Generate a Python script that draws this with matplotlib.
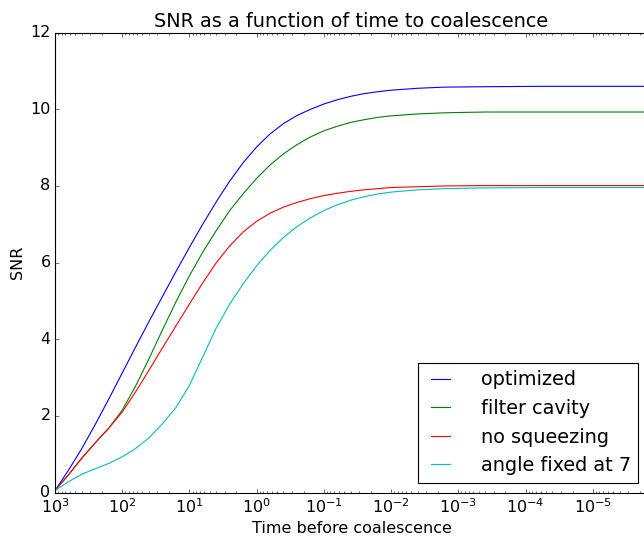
import matplotlib
matplotlib.use('Agg')
import matplotlib.pyplot as plt
import numpy as np

plt.style.use('classic')

# log10 of the time before coalescence
log_t = [3.0, 2.8, 2.6, 2.4, 2.2, 2.0, 1.8, 1.6, 1.4, 1.2, 1.0, 0.8, 0.6, 0.4, 0.2, 0.0,
         -0.2, -0.4, -0.6, -0.8, -1.0, -1.2, -1.4, -1.6, -1.8, -2.0, -2.4, -2.8,
         -3.4, -4.2, -5.0, -5.82]

snr_optimized = [0.05, 0.58, 1.15, 1.78, 2.44, 3.12, 3.8, 4.47, 5.12, 5.77, 6.4, 7.01,
                 7.59, 8.13, 8.61, 9.02, 9.36, 9.63, 9.84, 10.0, 10.14, 10.25, 10.34,
                 10.41, 10.46, 10.5, 10.55, 10.58, 10.59, 10.6, 10.6, 10.6]
snr_filter = [0.05, 0.46, 0.9, 1.3, 1.68, 2.15, 2.78, 3.5, 4.25, 4.98, 5.66, 6.28, 6.84,
              7.36, 7.8, 8.2, 8.55, 8.84, 9.08, 9.28, 9.44, 9.56, 9.66, 9.73, 9.79,
              9.83, 9.88, 9.91, 9.93, 9.93, 9.93, 9.93]
snr_nosqz = [0.05, 0.46, 0.9, 1.3, 1.68, 2.1, 2.63, 3.2, 3.78, 4.35, 4.92, 5.48, 6.0,
             6.44, 6.8, 7.08, 7.29, 7.45, 7.57, 7.67, 7.75, 7.81, 7.86, 7.9, 7.93,
             7.96, 7.98, 8.0, 8.01, 8.01, 8.01, 8.01]
snr_fixed = [0.05, 0.28, 0.48, 0.62, 0.76, 0.93, 1.15, 1.43, 1.8, 2.22, 2.8, 3.55, 4.3,
             4.92, 5.45, 5.92, 6.32, 6.66, 6.94, 7.17, 7.36, 7.51, 7.63, 7.72, 7.79,
             7.84, 7.9, 7.93, 7.95, 7.96, 7.96, 7.96]

labels = ['optimized', 'filter cavity', 'no squeezing', 'angle fixed at 7']
colors = ['b', 'g', 'r', 'c']

t = 10.0 ** np.array(log_t)

fig = plt.figure(figsize=(644 / 80, 539 / 80), dpi=80, facecolor='white')
ax = fig.add_axes([55 / 644, 46.5 / 539, 593 / 644, 459.8 / 539])

for y, lbl, c in zip([snr_optimized, snr_filter, snr_nosqz, snr_fixed], labels, colors):
    ax.plot(t, y, color=c, lw=1.0, label=lbl)

ax.set_xscale('log')
ax.set_xlim(1e3, 10 ** -5.82)
ax.set_ylim(0, 12)
ax.tick_params(labelsize=14.4)
ax.set_title('SNR as a function of time to coalescence', fontsize=17.3)
ax.set_xlabel('Time before coalescence', fontsize=14.4)
ax.set_ylabel('SNR', fontsize=14.4)
ax.legend(loc='lower right', fontsize=17.3, handlelength=1.6, handletextpad=1.27)

fig.savefig('out.png', dpi=80, facecolor='white')
